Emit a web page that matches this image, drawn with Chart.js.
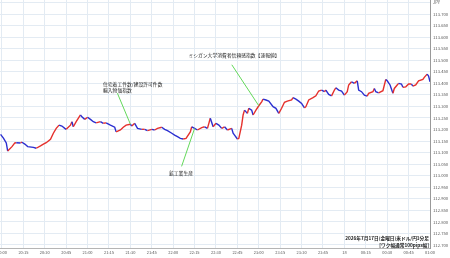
<!DOCTYPE html>
<html>
<head>
<meta charset="utf-8">
<script src="https://cdn.jsdelivr.net/npm/chart.js@4"></script>
<style>
html, body { margin: 0; padding: 0; background: #fff; }
#wrap { width: 450px; height: 258px; overflow: hidden; }
</style>
</head>
<body>
<div id="wrap"><canvas id="myChart" width="450" height="258"></canvas></div>
<script>
'use strict';

// USD/JPY 1-minute prices, minutes counted from 20:00
const minutes = [-1, 1, 3, 4, 7, 9, 10, 13, 14, 16, 18, 22, 24, 27, 29, 31, 34, 36, 38, 40,
    42, 44, 45, 48, 49, 50, 52, 55, 56, 58, 60, 62, 64, 66, 69, 71, 73, 76, 79, 80,
    83, 85, 87, 90, 91, 93, 95, 98, 100, 102, 105, 107, 109, 112, 114, 116, 119, 121, 123, 125,
    127, 129, 132, 133, 135, 137, 140, 142, 144, 146, 148, 150, 152, 154, 156, 158, 161, 162, 163, 165,
    166, 168, 169, 170, 172, 173, 175, 176, 178, 180, 182, 183, 185, 187, 190, 192, 194, 196, 198, 200,
    203, 204, 206, 208, 210, 212, 213, 215, 218, 220, 222, 224, 226, 227, 229, 231, 233, 234, 236, 238,
    240, 242, 243, 245, 247, 249, 250, 252, 254, 256, 257, 260, 261, 262, 264, 267, 269, 270, 272, 274,
    275, 277, 278, 280, 281, 283, 285, 287, 288, 290, 292, 295, 296, 298, 299, 300];
const prices = [113.179, 113.163, 113.142, 113.107, 113.126, 113.142, 113.143, 113.142, 113.145, 113.137,
    113.126, 113.123, 113.119, 113.129, 113.137, 113.143, 113.158, 113.184, 113.205, 113.219,
    113.215, 113.205, 113.201, 113.219, 113.234, 113.212, 113.234, 113.263, 113.255, 113.244,
    113.253, 113.244, 113.234, 113.229, 113.234, 113.227, 113.229, 113.219, 113.210, 113.190,
    113.198, 113.210, 113.219, 113.223, 113.215, 113.227, 113.205, 113.201, 113.201, 113.195,
    113.201, 113.198, 113.205, 113.210, 113.201, 113.195, 113.184, 113.176, 113.169, 113.162,
    113.159, 113.162, 113.190, 113.212, 113.205, 113.198, 113.208, 113.212, 113.205, 113.249,
    113.212, 113.227, 113.219, 113.205, 113.212, 113.198, 113.205, 113.184, 113.176, 113.159,
    113.162, 113.219, 113.263, 113.284, 113.270, 113.292, 113.284, 113.263, 113.284, 113.303,
    113.320, 113.332, 113.328, 113.323, 113.299, 113.292, 113.270, 113.292, 113.318, 113.323,
    113.328, 113.338, 113.332, 113.323, 113.313, 113.294, 113.299, 113.328, 113.338, 113.346,
    113.367, 113.371, 113.364, 113.371, 113.352, 113.346, 113.371, 113.381, 113.371, 113.367,
    113.349, 113.364, 113.393, 113.407, 113.400, 113.411, 113.371, 113.364, 113.349, 113.345,
    113.357, 113.364, 113.378, 113.364, 113.359, 113.368, 113.417, 113.411, 113.393, 113.357,
    113.378, 113.393, 113.400, 113.397, 113.383, 113.385, 113.397, 113.397, 113.388, 113.393,
    113.411, 113.417, 113.426, 113.440, 113.432, 113.407];

const xTickMinutes = [0, 15, 30, 45, 60, 75, 90, 105, 120, 135, 150, 165, 180, 195, 210, 225,
    240, 255, 270, 285, 300];
const xTickLabels = ['20:00', '20:15', '20:30', '20:45', '21:00', '21:15', '21:30', '21:45',
    '22:00', '22:15', '22:30', '22:45', '23:00', '23:15', '23:30', '23:45', '18', '00:15',
    '00:30', '00:45', '01:00'];
const yTickValues = [112.70, 112.75, 112.80, 112.85, 112.90, 112.95, 113.00, 113.05, 113.10,
    113.15, 113.20, 113.25, 113.30, 113.35, 113.40, 113.45, 113.50, 113.55, 113.60, 113.65,
    113.70, 113.75];

// economic releases marked on the chart
const eventMinutes = [90, 135, 180];
const eventTexts = [
    ['住宅着工件数/建設許可件数', '輸入物価指数'],
    ['鉱工業生産'],
    ['ミシガン大学消費者信頼感指数【速報値】']
];
const footerTexts = ['2026年7月17日(金曜日)米ドル/円1分足', '[ワク幅通常100pips幅]'];

const UP = '#e5302c';
const DOWN = '#2b2fd0';
const FONT = '"Noto Sans CJK JP", "Noto Sans", sans-serif';

// label placement relative to the marked price point (pixels)
const eventLayout = [
    { lx: -13, ly: -31, tx: 103, ty: [84, 90], align: 'left' },
    { lx: -13, ly: 38, tx: 181, ty: [173], align: 'center' },
    { lx: -27, ly: -41, tx: 234, ty: [55], align: 'center' }
];

const points = minutes.map((m, i) => ({ x: m, y: prices[i] }));

const annotationPlugin = {
    id: 'events',
    afterDatasetsDraw(chart) {
        const ctx = chart.ctx;
        const meta = chart.getDatasetMeta(0);
        ctx.save();
        ctx.font = '4.8px ' + FONT;
        ctx.textBaseline = 'middle';
        eventMinutes.forEach((m, k) => {
            const idx = minutes.indexOf(m);
            const pt = meta.data[idx];
            const lay = eventLayout[k];
            ctx.strokeStyle = '#63d85a';
            ctx.lineWidth = 1;
            ctx.beginPath();
            ctx.moveTo(pt.x, pt.y);
            ctx.lineTo(pt.x + lay.lx, pt.y + lay.ly);
            ctx.stroke();
            ctx.fillStyle = '#222';
            ctx.textAlign = lay.align;
            eventTexts[k].forEach((t, j) => ctx.fillText(t, lay.tx, lay.ty[j]));
        });
        // footer caption
        ctx.font = 'bold 4.7px ' + FONT;
        ctx.textAlign = 'right';
        ctx.fillStyle = '#222';
        const right = chart.chartArea.right - 1;
        ctx.fillText(footerTexts[0], right, 238);
        ctx.fillText(footerTexts[1], right, 245);
        ctx.restore();
    }
};

const ctx = document.getElementById('myChart').getContext('2d');
new Chart(ctx, {
    type: 'line',
    data: {
        datasets: [{
            data: points,
            borderWidth: 1.4,
            pointRadius: 0,
            tension: 0,
            borderColor: UP,
            segment: {
                borderColor: c => c.p1.parsed.y >= c.p0.parsed.y ? UP : DOWN
            }
        }]
    },
    options: {
        responsive: false,
        animation: false,
        devicePixelRatio: 1,
        layout: { padding: 0 },
        plugins: { legend: { display: false }, tooltip: { enabled: false } },
        scales: {
            x: {
                type: 'linear',
                min: -1.4,
                max: 300,
                afterBuildTicks: s => { s.ticks = xTickMinutes.map(v => ({ value: v })); },
                afterFit: s => { s.height = 10; s.paddingLeft = 0; s.paddingRight = 0; },
                grid: { color: '#e3ebf3', drawTicks: false },
                border: { color: '#b5b5b5' },
                ticks: {
                    autoSkip: false,
                    maxRotation: 0,
                    padding: 2,
                    color: '#555',
                    font: { size: 4, family: FONT },
                    callback: (v, i) => xTickLabels[i]
                }
            },
            y: {
                position: 'right',
                min: 112.687,
                max: 113.761,
                afterBuildTicks: s => { s.ticks = yTickValues.map(v => ({ value: v })); },
                afterFit: s => { s.width = 20; s.paddingTop = 0; s.paddingBottom = 0; },
                grid: { color: '#e3ebf3', drawTicks: false },
                border: { color: '#999' },
                ticks: {
                    autoSkip: false,
                    padding: 3,
                    color: '#555',
                    font: { size: 4.2, family: FONT },
                    callback: v => v > 113.74 ? 'JPY' : v.toFixed(3)
                }
            }
        }
    },
    plugins: [annotationPlugin]
});
</script>
</body>
</html>
